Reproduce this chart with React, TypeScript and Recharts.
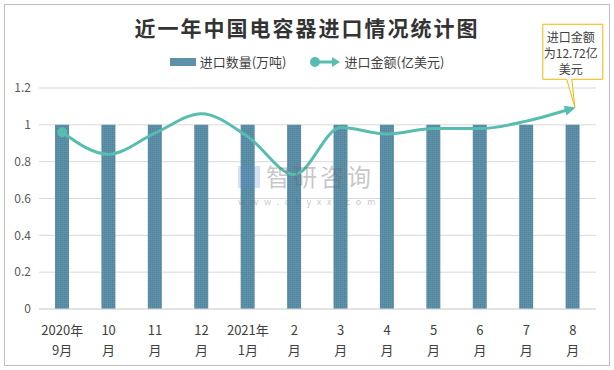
import React from 'react';
import { ComposedChart, Bar, Line, XAxis, YAxis, CartesianGrid } from 'recharts';

const months = ['2020年\n9月', '10\n月', '11\n月', '12\n月', '2021年\n1月', '2\n月', '3\n月', '4\n月', '5\n月', '6\n月', '7\n月', '8\n月'];
const quantity = [1, 1, 1, 1, 1, 1, 1, 1, 1, 1, 1, 1];
const amount = [0.96, 0.84, 0.955, 1.06, 0.935, 0.73, 0.985, 0.95, 0.98, 0.98, 1.02, 1.09];
const yTicks = [0, 0.2, 0.4, 0.6, 0.8, 1, 1.2];
const seriesNames = ['进口数量(万吨)', '进口金额(亿美元)'];
const calloutLines = ['进口金额', '为12.72亿', '美元'];

const BAR_COLOR = '#5d90a9';
const LINE_COLOR = '#58bdb0';
const FONT = '"Noto Sans CJK SC", "Noto Sans", sans-serif';

const data = months.map((m, i) => ({ month: m, quantity: quantity[i], amount: amount[i] }));

const MonthTick = (props: any) => {
  const { x, y, payload } = props;
  const [l1, l2] = String(payload.value).split('\n');
  return (
    <text x={x} y={y} textAnchor="middle" fill="#404040" fontSize={13} fontFamily={FONT}>
      <tspan x={x} dy={18}>{l1}</tspan>
      <tspan x={x} dy={20}>{l2}</tspan>
    </text>
  );
};

const AmountDot = (props: any) => {
  const { cx, cy, index } = props;
  if (index === 0) {
    return <circle key="d0" cx={cx} cy={cy} r={5} fill={LINE_COLOR} />;
  }
  if (index === amount.length - 1) {
    const left = cx - 30;
    const right = cx + 30;
    const top = cy - 84;
    const bottom = cy - 29;
    return (
      <g key="dlast">
        <polygon
          points={`${cx + 3},${cy} ${cx - 8},${cy - 5} ${cx - 8},${cy + 5}`}
          fill={LINE_COLOR}
          transform={`rotate(-17 ${cx} ${cy})`}
        />
        <path
          d={`M${left},${top} H${right} V${bottom} H${cx - 1} L${cx + 2},${cy - 1} L${cx - 6},${bottom} H${left} Z`}
          fill="#fff"
          stroke="#f2b705"
          strokeWidth={1}
        />
        {calloutLines.map((t, i) => (
          <text key={i} x={cx - 2} y={cy - 66 + i * 16} textAnchor="middle" fill="#404040" fontSize={12} fontFamily={FONT}>
            {t}
          </text>
        ))}
      </g>
    );
  }
  return <g key={`d${index}`} />;
};

export default function App() {
  return (
    <div style={{ position: 'absolute', left: 0, top: 0, width: 614, height: 370, background: '#fff', fontFamily: FONT }}>
      <div style={{ position: 'absolute', left: 4, top: 4, width: 604, height: 360, border: '1px solid #bfbfbf' }} />
      <div style={{ position: 'absolute', left: 0, top: 12, width: 614, textAlign: 'center', fontSize: 21, fontWeight: 600, color: '#333', letterSpacing: 2 }}>
        近一年中国电容器进口情况统计图
      </div>
      <div style={{ position: 'absolute', left: 0, top: 52, width: 614, display: 'flex', justifyContent: 'center', alignItems: 'center', fontSize: 13, color: '#404040' }}>
        <svg width={26} height={10} style={{ marginRight: 4 }}>
          <rect x={0} y={1} width={26} height={8} fill={BAR_COLOR} />
        </svg>
        <span style={{ marginRight: 22 }}>{seriesNames[0]}</span>
        <svg width={32} height={14} style={{ marginRight: 4 }}>
          <line x1={6} y1={7} x2={24} y2={7} stroke={LINE_COLOR} strokeWidth={3} />
          <circle cx={6} cy={7} r={5} fill={LINE_COLOR} />
          <polygon points="31,7 23,2 23,12" fill={LINE_COLOR} />
        </svg>
        <span>{seriesNames[1]}</span>
      </div>
      <div style={{ position: 'absolute', left: 0, top: 0 }}>
        <ComposedChart width={614} height={370} data={data} margin={{ top: 88, right: 18, bottom: 10, left: 9 }}>
          <defs>
            <pattern id="barDots" width={2} height={2} patternUnits="userSpaceOnUse">
              <rect width={2} height={2} fill={BAR_COLOR} />
              <rect width={1} height={1} fill="#4f8199" />
            </pattern>
          </defs>
          <CartesianGrid vertical={false} stroke="#d9d9d9" />
          <XAxis
            dataKey="month"
            interval={0}
            tick={<MonthTick />}
            tickLine={false}
            axisLine={{ stroke: '#d9d9d9' }}
            height={51}
          />
          <YAxis
            domain={[0, 1.2]}
            ticks={yTicks}
            tick={{ fill: '#595959', fontSize: 12, fontFamily: FONT }}
            tickLine={false}
            axisLine={false}
            width={30}
          />
          <Bar dataKey="quantity" fill="url(#barDots)" barSize={14} isAnimationActive={false} />
          <Line
            type="monotone"
            dataKey="amount"
            stroke={LINE_COLOR}
            strokeWidth={3}
            dot={AmountDot}
            activeDot={false}
            isAnimationActive={false}
          />
        </ComposedChart>
      </div>
      <div style={{ position: 'absolute', left: 238, top: 163, pointerEvents: 'none' }}>
        <div style={{ position: 'absolute', left: 0, top: 3, width: 22, height: 22, background: 'rgba(90,140,200,0.25)' }} />
        <div style={{ position: 'absolute', left: 28, top: 0, fontSize: 24, lineHeight: '26px', color: 'rgba(110,110,110,0.4)', letterSpacing: 3, whiteSpace: 'nowrap' }}>
          智研咨询
        </div>
        <div style={{ position: 'absolute', left: 0, top: 34, fontSize: 9, lineHeight: '10px', color: 'rgba(110,110,110,0.4)', letterSpacing: 5.8, whiteSpace: 'nowrap' }}>
          www.chyxx.com
        </div>
      </div>
    </div>
  );
}
